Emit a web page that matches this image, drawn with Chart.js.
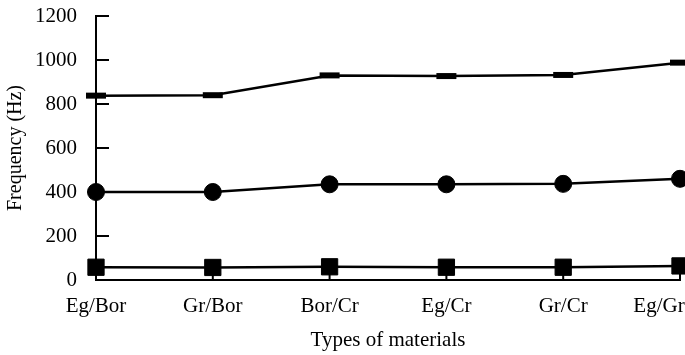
<!DOCTYPE html>
<html>
<head>
<meta charset="utf-8">
<script src="https://cdn.jsdelivr.net/npm/chart.js@4"></script>
<style>
  html, body { margin: 0; padding: 0; background: #fff; }
  #wrap { width: 685px; height: 355px; }
</style>
</head>
<body>
<div id="wrap"><canvas id="chart" width="685" height="355"></canvas></div>
<script>
const materials = ["Eg/Bor", "Gr/Bor", "Bor/Cr", "Eg/Cr", "Gr/Cr", "Eg/Gr"];
const upperFreq = [838, 840, 930, 927, 932, 988];   // dash markers
const middleFreq = [400, 400, 435, 435, 437, 460];  // circles
const lowerFreq = [58, 57, 60, 58, 58, 64];         // squares
const yTicks = [0, 200, 400, 600, 800, 1000, 1200];

const serif = "'Liberation Serif', 'Times New Roman', serif";

// ticks in the reference point inwards, so draw them ourselves
const innerTicks = {
    id: "innerTicks",
    beforeDatasetsDraw(chart) {
        const ctx = chart.ctx;
        const area = chart.chartArea;
        const x = chart.scales.x;
        const y = chart.scales.y;
        ctx.save();
        ctx.strokeStyle = "#000";
        ctx.lineWidth = 2;
        ctx.beginPath();
        yTicks.forEach(v => {
            if (v === 0) return;
            const py = y.getPixelForValue(v);
            ctx.moveTo(area.left, py);
            ctx.lineTo(area.left + 13, py);
        });
        materials.forEach((m, i) => {
            if (i === 0) return;
            const px = x.getPixelForValue(i);
            ctx.moveTo(px, area.bottom);
            ctx.lineTo(px, area.bottom - 9);
        });
        ctx.stroke();
        ctx.restore();
    }
};

const ctx = document.getElementById("chart").getContext("2d");
new Chart(ctx, {
    type: "line",
    data: {
        labels: materials,
        datasets: [
            {
                label: "upper",
                data: upperFreq,
                borderColor: "#000",
                backgroundColor: "#000",
                borderWidth: 2.5,
                pointStyle: "line",
                pointRadius: 10,
                pointBorderWidth: 6,
                tension: 0
            },
            {
                label: "middle",
                data: middleFreq,
                borderColor: "#000",
                backgroundColor: "#000",
                borderWidth: 2.5,
                pointStyle: "circle",
                pointRadius: 8.5,
                pointBorderWidth: 1,
                tension: 0
            },
            {
                label: "lower",
                data: lowerFreq,
                borderColor: "#000",
                backgroundColor: "#000",
                borderWidth: 2.5,
                pointStyle: "rect",
                pointRadius: 11.5,
                pointBorderWidth: 1,
                tension: 0
            }
        ]
    },
    options: {
        responsive: false,
        animation: false,
        clip: false,
        layout: { autoPadding: false, padding: { left: 0, right: 5, top: 16, bottom: 0 } },
        plugins: {
            legend: { display: false },
            tooltip: { enabled: false }
        },
        scales: {
            x: {
                offset: false,
                grid: { display: false, tickLength: 8 },
                border: { color: "#000", width: 2 },
                ticks: {
                    color: "#000",
                    font: { family: serif, size: 21 },
                    padding: 6,
                    maxRotation: 0,
                    autoSkip: false,
                    callback: function (value, index, ticks) {
                        const label = materials[index];
                        // last label sits flush with the right edge in the reference
                        return index === ticks.length - 1 ? label + "\u00a0".repeat(8) : label;
                    }
                },
                title: {
                    display: true,
                    text: "Types of materials",
                    color: "#000",
                    font: { family: serif, size: 21 },
                    padding: { top: 6, bottom: 2 }
                },
                afterFit(scale) {
                    scale.height = 75;
                    scale.paddingLeft = 0;
                    scale.paddingRight = 0;
                }
            },
            y: {
                min: 0,
                max: 1200,
                grid: { display: false, tickLength: 19 },
                border: { color: "#000", width: 2 },
                afterBuildTicks(scale) {
                    scale.ticks = yTicks.map(v => ({ value: v }));
                },
                ticks: {
                    color: "#000",
                    font: { family: serif, size: 21 },
                    padding: 0,
                    callback: v => String(v)
                },
                title: {
                    display: true,
                    text: "Frequency (Hz)",
                    color: "#000",
                    font: { family: serif, size: 20 },
                    padding: { top: 4, bottom: 4 }
                },
                afterFit(scale) {
                    scale.width = 96;
                }
            }
        }
    },
    plugins: [innerTicks]
});
</script>
</body>
</html>
